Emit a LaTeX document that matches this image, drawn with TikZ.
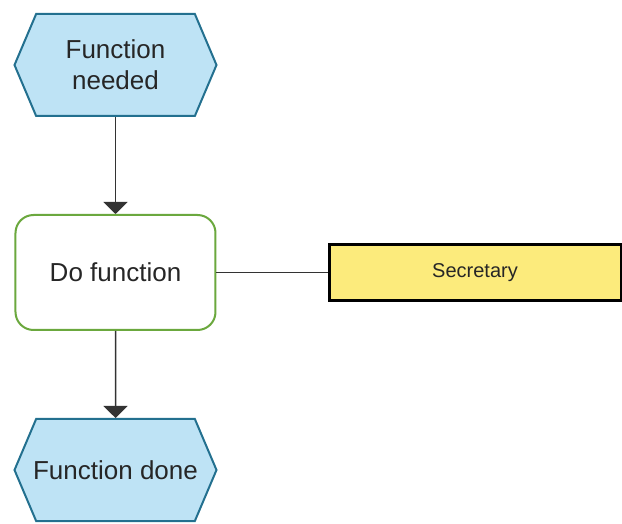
\documentclass[tikz,border=0pt]{standalone}
\usepackage{fontspec}
\setmainfont{Liberation Sans}
\usetikzlibrary{arrows.meta,positioning,shapes.symbols}
\definecolor{evfill}{HTML}{BEE3F5}
\definecolor{evline}{HTML}{23708F}
\definecolor{fnline}{HTML}{6BA83E}
\definecolor{orgfill}{HTML}{FCEB7C}
\tikzset{
  event/.style  ={shape=signal, signal to=west and east,
                  signal pointer angle=134, draw=evline, fill=evfill,
                  line width=2pt, minimum width=202pt, minimum height=102pt,
                  inner sep=0pt, align=center, text=black!85,
                  font=\fontsize{26}{31}\selectfont},
  func/.style   ={draw=fnline, rounded corners=18pt, fill=white,
                  line width=2pt, minimum width=200pt, minimum height=115pt,
                  text=black!85, font=\fontsize{26}{31}\selectfont},
  orgunit/.style={draw, line width=3pt, fill=orgfill, minimum width=292pt,
                  minimum height=56pt, text=black!85,
                  font=\fontsize{20}{24}\selectfont},
  flow/.style   ={-{Triangle[width=24pt,length=12pt]}, line width=1.5pt,
                  black!80},
  assoc/.style  ={line width=1.2pt, black!80},
}
\begin{document}
\begin{tikzpicture}
\useasboundingbox (-115.5pt,65pt) rectangle (506.5pt,-459pt);
\node[event] (need) {Function\\needed};
\node[func, below=97pt of need] (dofn) {Do function};
\node[orgunit, right=111pt of dofn] (secr) {Secretary};
\node[event, inner xsep=-4pt, below=87pt of dofn] (done) {Function done};
\draw[flow] (need) -- (dofn);
\draw[flow] (dofn) -- (done);
\draw[assoc] (dofn) -- (secr);
\end{tikzpicture}
\end{document}
